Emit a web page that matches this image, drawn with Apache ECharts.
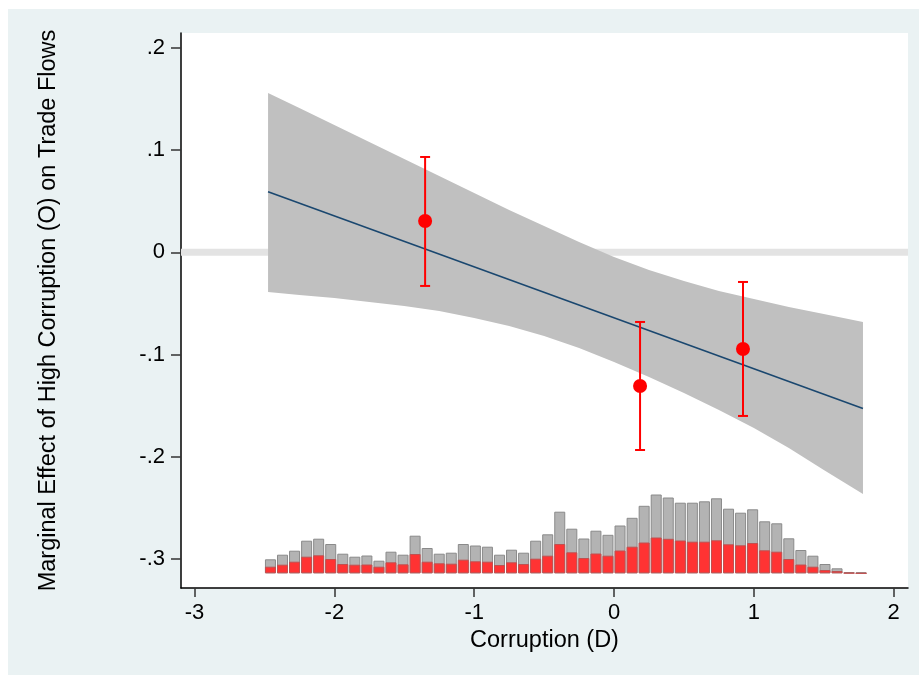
<!DOCTYPE html>
<html>
<head>
<meta charset="utf-8">
<script src="https://cdn.jsdelivr.net/npm/echarts@6/dist/echarts.min.js"></script>
<style>
  html, body { margin: 0; padding: 0; background: #fff; }
  #main { width: 919px; height: 675px; }
</style>
</head>
<body>
<div id="main"></div>
<script>
// histogram of corruption (D): bin layout and heights (gray = all, red = subset)
var binStart = -2.5;
var binWidth = 0.0862;
var grayFreq = [1.40,1.86,2.26,3.26,3.46,2.93,1.96,1.66,1.78,1.26,
                2.16,1.86,3.76,2.53,1.96,2.06,2.93,2.78,2.66,1.86,
                2.36,2.06,3.26,3.90,6.16,4.46,3.48,4.26,3.85,4.78,
                5.55,6.75,7.88,7.58,7.06,7.06,7.20,7.50,6.46,6.06,
                6.40,5.20,5.00,3.50,2.33,1.76,0.93,0.50,0.13,0.10];
var redFreq = [0.66,0.86,1.16,1.66,1.80,1.43,0.93,0.86,0.88,0.66,
               1.10,0.90,1.93,1.16,1.00,0.96,1.36,1.20,1.16,0.83,
               1.10,0.93,1.46,1.76,2.93,2.10,1.53,1.98,1.76,2.28,
               2.66,3.08,3.58,3.45,3.28,3.16,3.16,3.30,2.90,2.80,
               3.03,2.30,2.16,1.43,0.88,0.66,0.33,0.23,0.03,0.00];

// marginal effect line and confidence band
var lineX = [-2.474, 1.78];
var lineY = [0.0593, -0.1526];
var bandX = [-2.474, -2.25, -2, -1.75, -1.5, -1.25, -1, -0.75, -0.5,
             -0.25, 0, 0.25, 0.5, 0.75, 1, 1.25, 1.5, 1.78];
var bandUpper = [0.1557, 0.1411, 0.1244, 0.1078, 0.0912, 0.0746, 0.0580, 0.0414, 0.0257,
                 0.0101, -0.0046, -0.0173, -0.0280, -0.0378, -0.0456, -0.0535, -0.0603, -0.0681];
var bandLower = [-0.0388, -0.0418, -0.0447, -0.0486, -0.0525, -0.0574, -0.0642, -0.0721, -0.0818,
                 -0.0936, -0.1073, -0.1219, -0.1376, -0.1542, -0.1718, -0.1913, -0.2128, -0.2363];

// group estimates (low / medium / high corruption)
var groupNames = ['L', 'M', 'H'];
var groupX = [-1.351, 0.186, 0.922];
var groupEst = [0.0306, -0.1307, -0.0945];
var groupHi = [0.0932, -0.0681, -0.029];
var groupLo = [-0.0329, -0.1933, -0.160];
var groupLabelY = 0.1215;

var yTicks = [-0.3, -0.2, -0.1, 0, 0.1, 0.2];
var xTicks = [-3, -2, -1, 0, 1, 2];
var xMin = -3.0965, xMax = 2.102;

var chart = echarts.init(document.getElementById('main'));

var grayData = [], redData = [];
for (var i = 0; i < grayFreq.length; i++) {
  var c = binStart + (i + 0.5) * binWidth;
  grayData.push([c, grayFreq[i]]);
  redData.push([c, redFreq[i]]);
}
var bandData = bandX.map(function (x, i) { return [x, bandLower[i], bandUpper[i]]; });
var errData = groupX.map(function (x, i) { return [x, groupLo[i], groupHi[i]]; });
var estData = groupX.map(function (x, i) { return [x, groupEst[i]]; });
var labData = groupX.map(function (x, i) { return [x, groupLabelY, groupNames[i]]; });

function yFmt(v) {
  if (Math.abs(v) < 1e-9) return '0';
  return (v < 0 ? '-' : '') + '.' + Math.round(Math.abs(v) * 10);
}

var font = "'Liberation Sans', Arial, sans-serif";

option = {
  animation: false,
  backgroundColor: '#fff',
  graphic: [{
    type: 'rect', z: -10,
    shape: { x: 8, y: 9, width: 911, height: 666 },
    style: { fill: '#eaf2f3' }
  }],
  grid: {
    left: 181, top: 33, right: 11, bottom: 87,
    show: true, backgroundColor: '#fff', borderWidth: 0
  },
  xAxis: {
    type: 'value', min: xMin, max: xMax,
    name: 'Corruption (D)', nameLocation: 'middle', nameGap: 39,
    nameTextStyle: { fontFamily: font, fontSize: 23.5, color: '#000' },
    axisLine: { onZero: false, lineStyle: { color: '#000', width: 1.5 } },
    axisTick: { customValues: xTicks, length: 9, lineStyle: { color: '#333', width: 1.5 } },
    axisLabel: { customValues: xTicks, margin: 14, fontFamily: font, fontSize: 22, color: '#000' },
    splitLine: { show: false }
  },
  yAxis: [{
    type: 'value', min: -0.3282, max: 0.2144,
    name: 'Marginal Effect of High Corruption (O) on Trade Flows',
    nameLocation: 'middle', nameGap: 120,
    nameTextStyle: { fontFamily: font, fontSize: 23.5, color: '#000' },
    axisLine: { onZero: false, lineStyle: { color: '#000', width: 1.5 } },
    axisTick: { customValues: yTicks, length: 10, lineStyle: { color: '#333', width: 1.5 } },
    axisLabel: { customValues: yTicks, margin: 16, formatter: yFmt, fontFamily: font, fontSize: 22, color: '#000' },
    splitLine: { show: false }
  }, {
    type: 'value', min: -1.47, max: 54.03, show: false,
    splitLine: { show: false }
  }],
  series: [
    {
      // zero reference line
      type: 'line', z: 1, silent: true, showSymbol: false,
      data: [[xMin, 0], [xMax, 0]],
      lineStyle: { color: '#e3e3e3', width: 7 }
    },
    {
      type: 'custom', z: 2, silent: true,
      data: bandData,
      renderItem: function (params, api) {
        if (params.dataIndex !== 0) return;
        var up = [], lo = [];
        for (var i = 0; i < bandData.length; i++) {
          up.push(api.coord([bandData[i][0], bandData[i][2]]));
          lo.push(api.coord([bandData[i][0], bandData[i][1]]));
        }
        return {
          type: 'polygon',
          shape: { points: up.concat(lo.reverse()) },
          style: { fill: '#c0c0c0' }
        };
      }
    },
    {
      type: 'bar', xAxisIndex: 0, yAxisIndex: 1, z: 3,
      data: grayData, barWidth: 11,
      itemStyle: { color: '#b3b3b3', borderColor: '#8a8a8a', borderWidth: 1 }
    },
    {
      type: 'bar', xAxisIndex: 0, yAxisIndex: 1, z: 4,
      data: redData, barWidth: 11, barGap: '-100%',
      itemStyle: { color: '#ff3333', borderColor: '#c05050', borderWidth: 1 }
    },
    {
      type: 'line', z: 5, data: lineX.map(function (x, i) { return [x, lineY[i]]; }),
      showSymbol: false, lineStyle: { color: '#1a476f', width: 1.6 }
    },
    {
      type: 'custom', z: 6,
      data: errData,
      renderItem: function (params, api) {
        var x = api.value(0);
        var lo = api.coord([x, api.value(1)]);
        var hi = api.coord([x, api.value(2)]);
        var st = { stroke: '#f00', lineWidth: 2 };
        return {
          type: 'group',
          children: [
            { type: 'line', shape: { x1: lo[0], y1: lo[1], x2: hi[0], y2: hi[1] }, style: st },
            { type: 'line', shape: { x1: hi[0] - 5, y1: hi[1], x2: hi[0] + 5, y2: hi[1] }, style: st },
            { type: 'line', shape: { x1: lo[0] - 5, y1: lo[1], x2: lo[0] + 5, y2: lo[1] }, style: st }
          ]
        };
      }
    },
    {
      type: 'scatter', z: 7, data: estData,
      symbol: 'circle', symbolSize: 14,
      itemStyle: { color: '#f00', opacity: 1 }
    },
    {
      type: 'scatter', z: 7, data: labData, symbolSize: 1,
      itemStyle: { opacity: 0 },
      label: {
        show: true, position: 'inside',
        formatter: function (p) { return p.value[2]; },
        fontFamily: font, fontSize: 30, color: '#a0a0a0'
      }
    }
  ]
};

chart.setOption(option);
</script>
</body>
</html>
